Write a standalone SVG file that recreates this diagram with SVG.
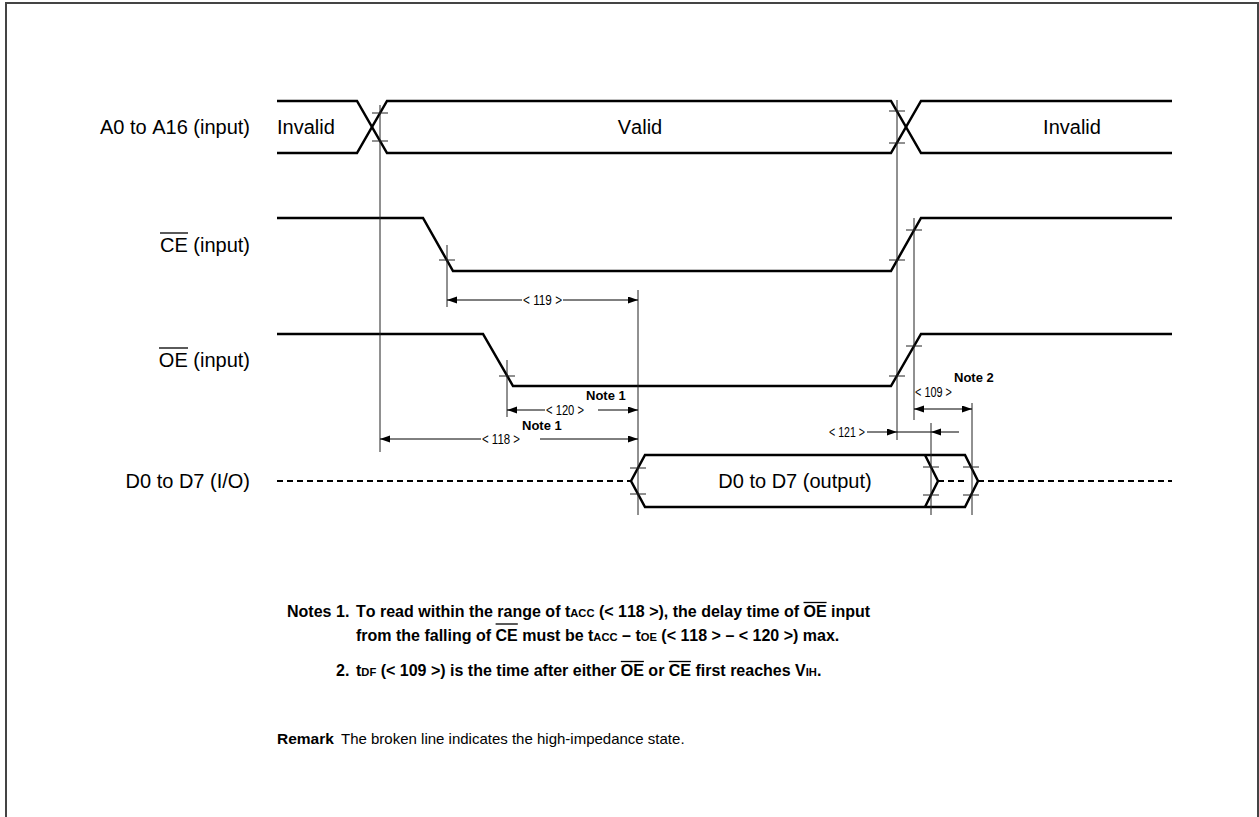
<svg xmlns="http://www.w3.org/2000/svg" width="1259" height="817" viewBox="0 0 1259 817">
<style>
.sig{fill:none;stroke:#000;stroke-width:2.5;stroke-linejoin:miter}
.dash{fill:none;stroke:#000;stroke-width:2;stroke-dasharray:6 4}
.ref{stroke:#222;stroke-width:1;fill:none}
.dim{stroke:#000;stroke-width:1;fill:none}
.lbl{font-family:"Liberation Sans",Arial,sans-serif;font-size:20px;fill:#000;font-kerning:none}
.dl{font-family:"Liberation Sans",Arial,sans-serif;font-size:15px;fill:#000}
.nt{font-family:"Liberation Sans",Arial,sans-serif;font-size:13px;font-weight:bold;fill:#000}
.tx{font-family:"Liberation Sans",Arial,sans-serif;font-size:16px;font-weight:bold;fill:#000;font-kerning:none}
.rm{font-family:"Liberation Sans",Arial,sans-serif;font-size:15px;fill:#000;font-kerning:none}
.sc{font-size:11.2px}
.ov{stroke:#000;stroke-width:1.3}
</style>
<defs>
<marker id="ah" markerUnits="userSpaceOnUse" markerWidth="11" markerHeight="8" refX="10" refY="3.5" orient="auto">
<path d="M0,0 L10,3.5 L0,7 z" fill="#000"/>
</marker>
</defs>
<path d="M6,817 V3 H1258 V817" fill="none" stroke="#444" stroke-width="2"/>

<g id="labels">
<text class="lbl" x="250" y="134" text-anchor="end">A0 to A16 (input)</text>
<text class="lbl" x="250" y="252" text-anchor="end">CE (input)</text>
<text class="lbl" x="250" y="367" text-anchor="end">OE (input)</text>
<text class="lbl" x="250" y="488" text-anchor="end">D0 to D7 (I/O)</text>
<line class="ov" x1="160" y1="233" x2="188" y2="233"/>
<line class="ov" x1="159" y1="348" x2="188" y2="348"/>
</g>

<g id="node-address">
<path class="sig" d="M277,101 H357 L387,153 H891 L921,101 H1172"/>
<path class="sig" d="M277,153 H357 L387,101 H891 L921,153 H1172"/>
<text class="lbl" x="277" y="134">Invalid</text>
<text class="lbl" x="640" y="134" text-anchor="middle">Valid</text>
<text class="lbl" x="1072" y="134" text-anchor="middle">Invalid</text>
</g>

<g id="node-ce">
<path class="sig" d="M277,218 H423 L453,271 H891 L921,218 H1172"/>
</g>

<g id="node-oe">
<path class="sig" d="M277,334 H483 L513,386 H891 L921,334 H1172"/>
</g>

<g id="node-data">
<path class="dash" d="M277,481 H631 M938,481 H965 M978,481 H1172"/>
<path class="sig" d="M631,481 L645,455 H965 L978,481 L965,507 H645 Z"/>
<path class="sig" d="M925,455 L938,481 L925,507"/>
<text class="lbl" x="795" y="488" text-anchor="middle">D0 to D7 (output)</text>
</g>

<g id="connectors">
<line class="ref" x1="380" y1="105" x2="380" y2="452"/>
<line class="ref" x1="897" y1="100" x2="897" y2="440"/>
<line class="ref" x1="447" y1="245" x2="447" y2="307"/>
<line class="ref" x1="914" y1="218" x2="914" y2="420"/>
<line class="ref" x1="638" y1="290" x2="638" y2="515"/>
<line class="ref" x1="507" y1="360" x2="507" y2="417"/>
<line class="ref" x1="972" y1="403" x2="972" y2="515"/>
<line class="ref" x1="931" y1="423" x2="931" y2="515"/>
<path class="ref" d="M372,113 H388 M372,141 H388 M889,111 H905 M889,143 H905
M439,260 H455 M889,260 H905 M906,230 H922
M499,376 H515 M889,376 H905 M906,346 H922
M630,468 H646 M630,494 H646 M923,467 H939 M923,495 H939 M963,467 H979 M963,495 H979"/>
<line class="dim" x1="522" y1="300" x2="447" y2="300" marker-end="url(#ah)"/>
<line class="dim" x1="563" y1="300" x2="638" y2="300" marker-end="url(#ah)"/>
<text class="dl" x="523" y="305" textLength="39" lengthAdjust="spacingAndGlyphs">&lt; 119 &gt;</text>
<line class="dim" x1="545" y1="410" x2="507" y2="410" marker-end="url(#ah)"/>
<line class="dim" x1="598" y1="410" x2="638" y2="410" marker-end="url(#ah)"/>
<text class="dl" x="546" y="415" textLength="38" lengthAdjust="spacingAndGlyphs">&lt; 120 &gt;</text>
<text class="nt" x="586" y="400">Note 1</text>
<line class="dim" x1="481" y1="439" x2="380" y2="439" marker-end="url(#ah)"/>
<line class="dim" x1="540" y1="439" x2="638" y2="439" marker-end="url(#ah)"/>
<text class="dl" x="482" y="444" textLength="38" lengthAdjust="spacingAndGlyphs">&lt; 118 &gt;</text>
<text class="nt" x="522" y="430">Note 1</text>
<line class="dim" x1="943" y1="409" x2="914" y2="409" marker-end="url(#ah)"/>
<line class="dim" x1="943" y1="409" x2="972" y2="409" marker-end="url(#ah)"/>
<text class="dl" x="915" y="397" textLength="37" lengthAdjust="spacingAndGlyphs">&lt; 109 &gt;</text>
<text class="nt" x="954" y="382">Note 2</text>
<line class="dim" x1="867" y1="432" x2="897" y2="432" marker-end="url(#ah)"/>
<line class="dim" x1="897" y1="432" x2="931" y2="432"/>
<line class="dim" x1="959" y1="432" x2="931" y2="432" marker-end="url(#ah)"/>
<text class="dl" x="829" y="437" textLength="36" lengthAdjust="spacingAndGlyphs">&lt; 121 &gt;</text>
</g>

<g id="notes">
<text class="tx" x="287" y="617">Notes</text>
<text class="tx" x="336" y="617">1.</text>
<text class="tx" x="356" y="617">To read within the range of t<tspan class="sc">ACC</tspan> (&lt; 118 &gt;), the delay time of OE input</text>
<line class="ov" x1="803.5" y1="602.5" x2="826.6" y2="602.5"/>
<text class="tx" x="356" y="641">from the falling of CE must be t<tspan class="sc">ACC</tspan> – t<tspan class="sc">OE</tspan> (&lt; 118 &gt; – &lt; 120 &gt;) max.</text>
<line class="ov" x1="495.6" y1="624" x2="517.8" y2="624"/>
<text class="tx" x="336" y="676">2.</text>
<text class="tx" x="356" y="676">t<tspan class="sc">DF</tspan> (&lt; 109 &gt;) is the time after either OE or CE first reaches V<tspan class="sc">IH</tspan>.</text>
<line class="ov" x1="620.8" y1="661.5" x2="643.9" y2="661.5"/>
<line class="ov" x1="668.8" y1="661.5" x2="691" y2="661.5"/>
<text class="tx" x="277" y="744" style="font-size:15.5px">Remark</text>
<text class="rm" x="341" y="744">The broken line indicates the high-impedance state.</text>
</g>
</svg>
